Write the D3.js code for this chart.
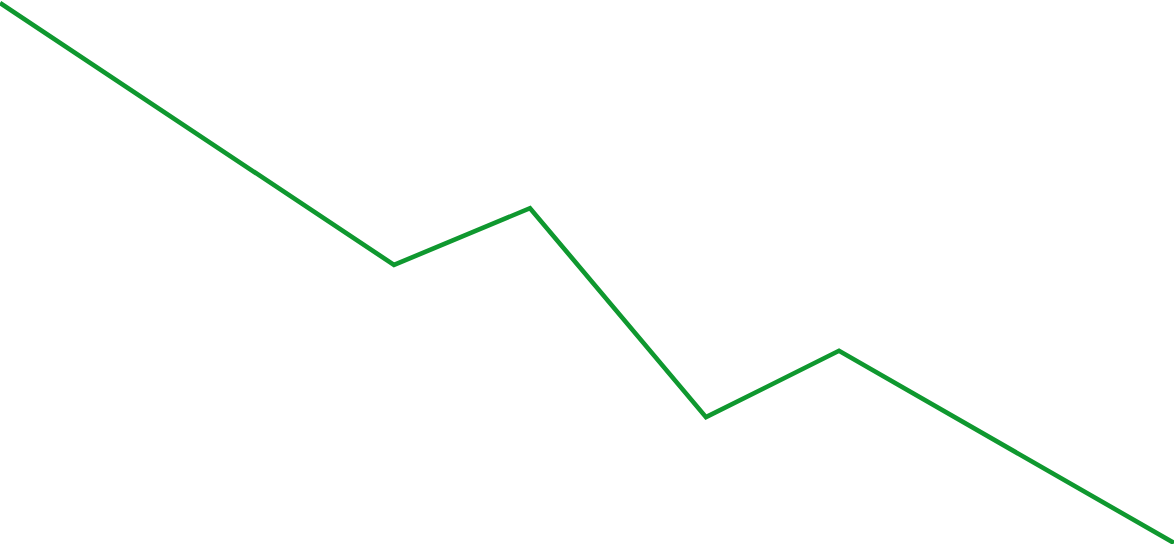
<!DOCTYPE html>
<html>
<head>
    <meta charset="utf-8">
    <style>
        body { margin: 0; background: #fff; }
        svg { display: block; }
    </style>
    <script src="https://cdn.jsdelivr.net/npm/d3@7"></script>
</head>
<body>
    <svg id="container" width="1174" height="544"></svg>
</body>
<script>
    let xValues = [0, 394, 530, 706, 839, 1174]
    let yValues = [100, 51.5, 62.0, 23.3, 35.6, 0]

    let width = 1174
    let height = 544

    let data = xValues.map((x, i) => ({ x: x, y: yValues[i] }))

    let xScale = d3.scaleLinear()
        .domain([0, 1174])
        .range([0, width])

    let yScale = d3.scaleLinear()
        .domain([0, 100])
        .range([543, 3])

    let line = d3.line()
        .x(d => xScale(d.x))
        .y(d => yScale(d.y))

    d3.select("#container")
        .append("path")
        .datum(data)
        .attr("d", line)
        .attr("fill", "none")
        .attr("stroke", "#0f982f")
        .attr("stroke-width", 4.6)
        .attr("stroke-linejoin", "miter")
</script>
</html>
